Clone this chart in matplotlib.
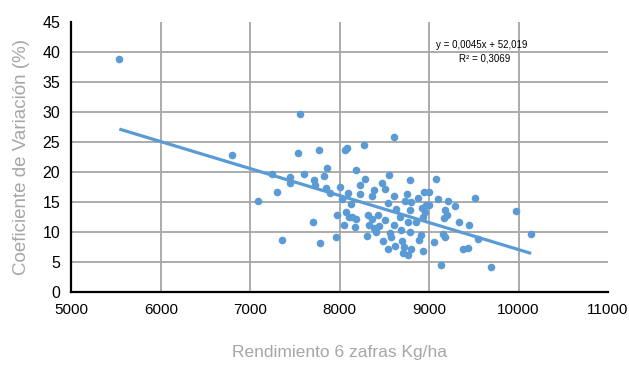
import matplotlib
matplotlib.use("Agg")
import matplotlib.pyplot as plt
import numpy as np

# Data
rendimiento = [
    5536, 6801, 7551,
    7081, 7246, 7298, 7357, 7444, 7439, 7533, 7596, 7704, 7716, 7719, 7764,
    7775, 7824, 7847, 7858, 7895, 7954, 7965, 7999, 8021, 8048, 8055, 8082,
    8066, 8093, 8104, 8130, 8138, 8175, 8186, 8186, 8227, 8227, 8272, 8279,
    8301, 8312, 8328, 8362, 8380, 8362, 8402, 8387, 8424, 8440, 8474, 8485,
    8507, 8507, 8536, 8544, 8552, 8559, 8574, 8603, 8611, 8611, 8619, 8630,
    8670, 8686, 8693, 8709, 8720, 8727, 8753, 8760, 8768, 8782, 8782, 8798,
    8802, 8782, 8854, 8876, 8883, 8910, 8921, 8932, 8932, 8939, 8955, 8966,
    9000, 9003, 9056, 9081, 9100, 9129, 9156, 9163, 9182, 9174, 9201, 9208,
    9291, 9339, 9376, 9432, 9451, 9510, 9552, 9697, 9969, 10141,
]
coef_var = [
    38.8, 22.8, 29.7,
    15.2, 19.7, 16.6, 8.6, 19.1, 18.2, 23.1, 19.7, 11.7, 18.6, 17.8, 23.6,
    8.1, 19.3, 17.3, 20.6, 16.4, 9.1, 12.8, 17.4, 15.4, 11.1, 23.7, 23.9,
    13.3, 16.5, 12.5, 14.6, 12.5, 10.8, 12.1, 20.3, 17.8, 16.3, 24.5, 18.8,
    9.3, 12.8, 11.1, 16.0, 17.0, 12.1, 9.9, 10.7, 12.8, 11.0, 18.2, 8.5,
    17.2, 12.0, 14.8, 7.2, 19.4, 9.8, 9.2, 25.8, 16.0, 11.2, 7.7, 13.8,
    12.5, 10.3, 8.5, 6.5, 7.5, 15.2, 16.3, 11.7, 6.1, 18.6, 13.7, 15.0,
    7.2, 9.9, 11.7, 15.7, 8.7, 9.4, 13.9, 12.5, 6.8, 16.6, 13.3, 14.5,
    16.7, 14.5, 8.3, 18.8, 15.5, 4.5, 9.6, 12.3, 13.7, 9.2, 12.8, 15.2,
    14.3, 11.7, 7.1, 7.3, 11.2, 15.7, 8.8, 4.2, 13.5, 9.7,
]
trend_slope = -0.0045
trend_intercept = 52.019
eq_text = "y = 0,0045x + 52,019"
r2_text = "R² = 0,3069"
x_ticks = [5000, 6000, 7000, 8000, 9000, 10000, 11000]
y_ticks = [0, 5, 10, 15, 20, 25, 30, 35, 40, 45]

narrow = ["Liberation Sans Narrow", "Liberation Sans", "DejaVu Sans"]
blue = "#5B9BD5"

fig = plt.figure(figsize=(6.29, 3.65), dpi=100)
ax = fig.add_axes([0.1135, 0.2008, 0.8531, 0.7397])

x = np.array(rendimiento, dtype=float)
y = np.array(coef_var, dtype=float)
ax.scatter(x, y, s=30, color=blue, zorder=3, linewidths=0)

xt = np.array([x.min(), x.max()])
ax.plot(xt, trend_slope * xt + trend_intercept, color=blue, lw=2.3, zorder=2,
        solid_capstyle="butt")

ax.set_xlim(5000, 11000)
ax.set_ylim(0, 45)
ax.set_xticks(x_ticks)
ax.set_yticks(y_ticks)
ax.set_xticklabels([str(v) for v in x_ticks], family=narrow, fontsize=11, color="black")
ax.set_yticklabels([str(v) for v in y_ticks], family=narrow, fontsize=11.5, color="black")
ax.tick_params(length=0, pad=8)

ax.grid(True, color="#A6A6A6", lw=1.3, zorder=0)
ax.set_axisbelow(True)
ax.get_xgridlines()[0].set_visible(False)
ax.get_xgridlines()[-1].set_visible(False)
ax.get_ygridlines()[0].set_visible(False)
ax.get_ygridlines()[-1].set_visible(False)

for s in ["top", "right"]:
    ax.spines[s].set_visible(False)
for s in ["left", "bottom"]:
    ax.spines[s].set_color("black")
    ax.spines[s].set_linewidth(1.6)

ax.set_xlabel("Rendimiento 6 zafras Kg/ha", family=narrow, fontsize=12.5,
              color="#A6A6A6", labelpad=20)
ax.set_ylabel("Coeficiente de Variación (%)", family=narrow, fontsize=13.5,
              color="#A6A6A6", labelpad=9)

ax.text(9583, 41.2, eq_text, family=narrow, fontsize=7, ha="center", va="center")
ax.text(9619, 38.8, r2_text, family=narrow, fontsize=7, ha="center", va="center")

fig.savefig("out.png", dpi=100)
